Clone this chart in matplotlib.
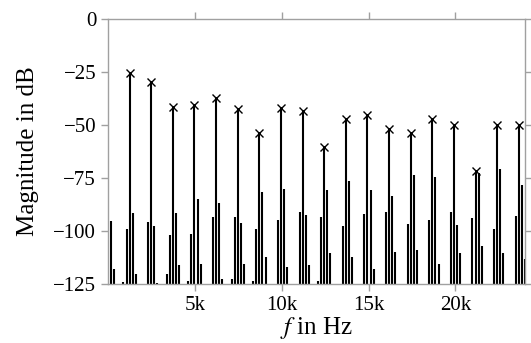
import matplotlib
matplotlib.use("Agg")
import matplotlib.pyplot as plt
import numpy as np

# spectrum: fs = 48 kHz, N = 270 -> bin spacing 177.8 Hz
fs = 48000
n_fft = 270

bins = [1, 2,
        5, 6, 7, 8, 9,
        13, 14, 15, 16,
        19, 20, 21, 22, 23,
        26, 27, 28, 29, 30,
        34, 35, 36, 37,
        40, 41, 42, 43, 44,
        47, 48, 49, 50, 51,
        55, 56, 57, 58,
        62, 63, 64, 65,
        68, 69, 70, 71, 72,
        76, 77, 78, 79,
        83, 84, 85, 86,
        90, 91, 92, 93,
        97, 98, 99, 100,
        104, 105, 106, 107,
        111, 112, 113, 114,
        118, 119, 120, 121,
        125, 126, 127, 128,
        132, 133, 134, 135]
mag_db = [-95.3, -118.0,
          -124.0, -99.2, -25.3, -91.4, -120.3,
          -95.8, -29.6, -97.6, -124.4,
          -120.3, -101.9, -41.7, -91.5, -116.0,
          -123.8, -101.4, -40.7, -84.9, -115.7,
          -93.5, -37.1, -86.8, -122.7,
          -122.7, -93.4, -42.6, -96.2, -115.4,
          -123.5, -99.0, -53.6, -81.6, -112.4,
          -94.6, -42.1, -80.2, -117.0,
          -91.0, -43.4, -92.4, -116.2,
          -123.8, -93.3, -60.4, -80.7, -110.5,
          -97.5, -47.3, -76.2, -112.1,
          -91.8, -45.3, -80.7, -117.8,
          -91.0, -52.0, -83.3, -109.8,
          -96.5, -53.9, -73.6, -109.0,
          -94.8, -47.2, -74.5, -115.6,
          -91.0, -50.0, -97.3, -110.6,
          -94.0, -72.0, -72.8, -107.0,
          -99.2, -50.0, -70.8, -110.4,
          -92.9, -50.0, -78.3, -113.1]

# harmonic peaks (x markers)
peak_bins = [7, 14, 21, 28, 35, 42, 49, 56, 63, 70, 77, 84, 91, 98, 105, 112, 119, 126, 133]
peak_db = [-25.3, -29.6, -41.7, -40.7, -37.1, -42.6, -53.6, -42.1, -43.4, -60.4,
           -47.3, -45.3, -52.0, -53.9, -47.2, -50.0, -71.5, -50.0, -50.0]

xticks = [5000, 10000, 15000, 20000]
xticklabels = ["5k", "10k", "15k", "20k"]
yticks = [0, -25, -50, -75, -100, -125]

plt.rcParams["font.family"] = ["Liberation Serif", "DejaVu Serif"]
plt.rcParams["mathtext.fontset"] = "stix"
plt.rcParams["font.size"] = 15

df = fs / n_fft
freqs = np.array(bins) * df
peak_freqs = np.array(peak_bins) * df

fig = plt.figure(figsize=(5.31, 3.43), dpi=100)
ax = fig.add_axes([108 / 531, 1 - 284 / 343, 417 / 531, 265 / 343])

ax.vlines(freqs, -125, mag_db, colors="black", linewidth=1.5)
ax.plot(peak_freqs, peak_db, linestyle="none", marker="x", color="black",
        markersize=6, markeredgewidth=1.0)

ax.set_xlim(0, fs / 2)
ax.set_ylim(-125, 0)
ax.set_xticks(xticks)
ax.set_xticklabels(xticklabels)
ax.set_yticks(yticks)

for s in ax.spines.values():
    s.set_color("#a0a0a0")
    s.set_linewidth(1.0)
ax.tick_params(direction="out", length=5, width=1.0, color="#a0a0a0",
               top=True, right=True, labelcolor="black")

ax.set_xlabel("$f$ in Hz", fontsize=18, labelpad=0)
ax.set_ylabel("Magnitude in dB", fontsize=18, labelpad=10)

fig.savefig("out.png", dpi=100)
